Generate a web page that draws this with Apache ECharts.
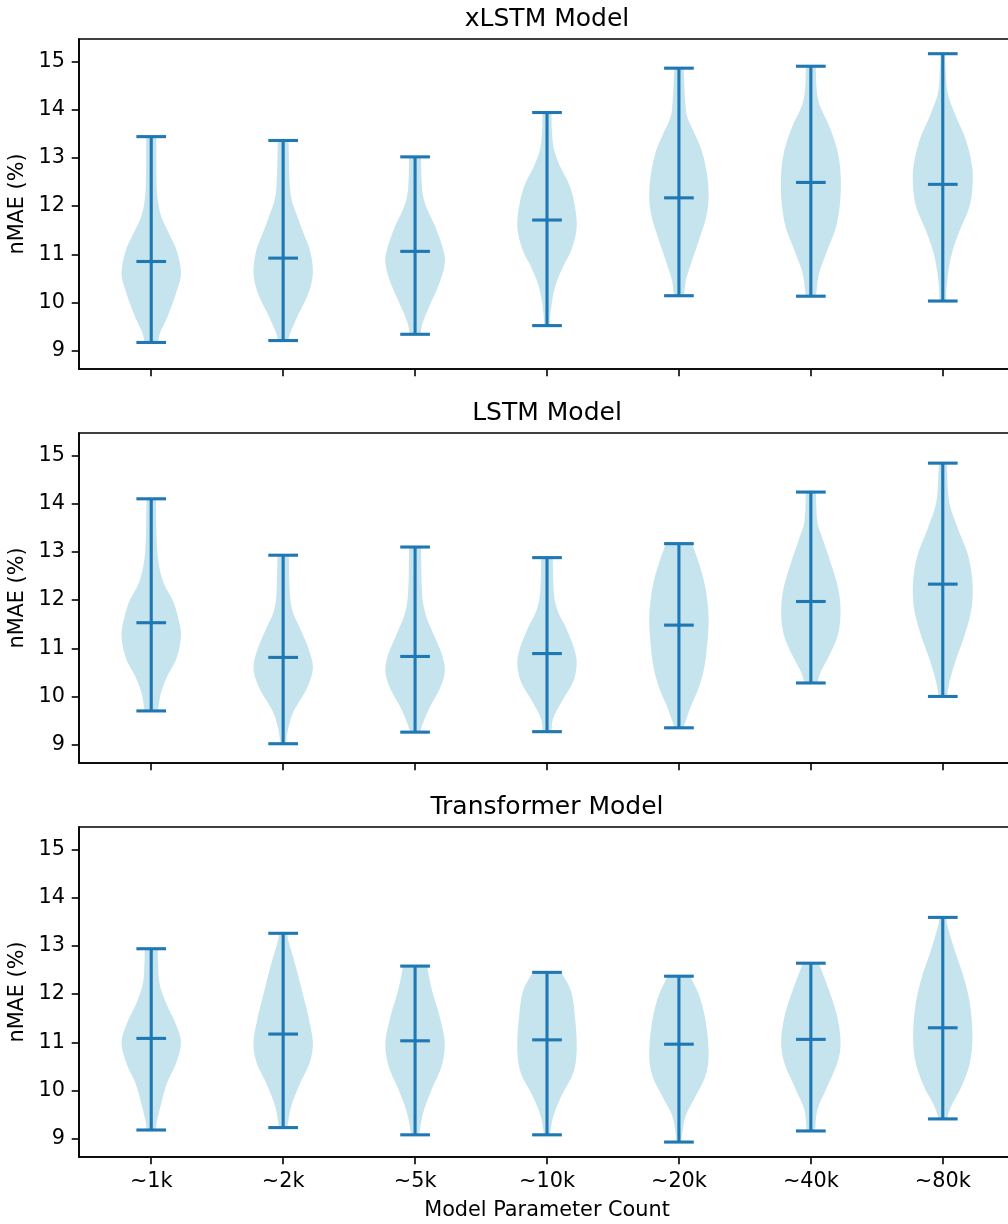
<!DOCTYPE html>
<html><head><meta charset="utf-8">
<script src="https://cdn.jsdelivr.net/npm/echarts@6/dist/echarts.min.js"></script>
<style>html,body{margin:0;padding:0;background:#fff}#c{width:1008px;height:1224px}</style>
</head><body><div id="c"></div>
<script>
// ---------------- data ----------------
const categories = ['~1k','~2k','~5k','~10k','~20k','~40k','~80k'];
const panelTitles = ['xLSTM Model','LSTM Model','Transformer Model'];
const yTicks = [9,10,11,12,13,14,15];

const xlstmMin = [9.17, 9.21, 9.34, 9.52, 10.14, 10.13, 10.03];
const xlstmMax = [13.44, 13.36, 13.02, 13.94, 14.86, 14.90, 15.16];
const xlstmMid = [10.85, 10.92, 11.06, 11.71, 12.17, 12.49, 12.45];

const lstmMin = [9.70, 9.02, 9.26, 9.27, 9.35, 10.28, 10.00];
const lstmMax = [14.10, 12.93, 13.10, 12.88, 13.17, 14.24, 14.84];
const lstmMid = [11.53, 10.81, 10.83, 10.89, 11.48, 11.97, 12.33];

const transMin = [9.18, 9.23, 9.08, 9.08, 8.93, 9.16, 9.41];
const transMax = [12.94, 13.26, 12.58, 12.45, 12.37, 12.64, 13.59];
const transMid = [11.08, 11.17, 11.03, 11.05, 10.96, 11.06, 11.30];

// violin outline: [value, relative half-width]
const xlstmShape = [
  [[13.44,0.17],[12.5,0.18],[12.12,0.22],[11.78,0.34],[11.44,0.59],[11.09,0.85],[10.6,1.0],[10.2,0.84],[9.71,0.55],[9.37,0.3],[9.17,0.22]],
  [[13.36,0.18],[12.47,0.22],[12.12,0.29],[11.78,0.48],[11.43,0.69],[11.09,0.9],[10.61,1.0],[10.19,0.85],[9.71,0.48],[9.37,0.24],[9.21,0.17]],
  [[13.02,0.2],[12.33,0.24],[11.99,0.37],[11.57,0.68],[11.09,0.95],[10.81,1.0],[10.40,0.82],[9.92,0.48],[9.57,0.25],[9.34,0.18]],
  [[13.94,0.15],[13.50,0.17],[13.16,0.24],[12.81,0.45],[12.47,0.73],[12.12,0.9],[11.57,1.0],[11.09,0.82],[10.74,0.54],[10.40,0.31],[10.06,0.18],[9.71,0.11],[9.52,0.1]],
  [[14.86,0.16],[14.19,0.21],[13.85,0.28],[13.50,0.53],[13.16,0.76],[12.68,0.94],[12.19,1.0],[11.78,0.92],[11.30,0.68],[10.88,0.45],[10.47,0.24],[10.14,0.17]],
  [[14.90,0.16],[14.19,0.25],[13.64,0.63],[13.16,0.89],[12.68,1.0],[12.12,0.99],[11.57,0.85],[11.09,0.56],[10.61,0.28],[10.13,0.17]],
  [[15.16,0.08],[14.88,0.09],[14.33,0.17],[13.85,0.45],[13.37,0.78],[12.81,0.99],[12.40,1.0],[11.99,0.9],[11.43,0.53],[10.95,0.28],[10.40,0.14],[10.03,0.11]]
];
const lstmShape = [
  [[14.10,0.16],[13.14,0.19],[12.66,0.28],[12.31,0.45],[11.97,0.74],[11.55,0.94],[11.24,1.0],[10.79,0.85],[10.38,0.51],[10.03,0.31],[9.70,0.23]],
  [[12.93,0.19],[12.10,0.23],[11.76,0.32],[11.41,0.57],[11.0,0.85],[10.59,1.0],[10.17,0.8],[9.69,0.35],[9.34,0.17],[9.02,0.09]],
  [[13.10,0.2],[12.10,0.24],[11.69,0.36],[11.28,0.63],[10.86,0.91],[10.52,1.0],[10.17,0.84],[9.76,0.48],[9.41,0.24],[9.26,0.17]],
  [[12.88,0.19],[12.10,0.24],[11.76,0.37],[11.41,0.65],[11.0,0.91],[10.69,1.0],[10.31,0.88],[9.90,0.5],[9.55,0.21],[9.27,0.14]],
  [[13.17,0.44],[12.79,0.66],[12.38,0.85],[11.97,0.96],[11.55,1.0],[11.07,0.95],[10.59,0.85],[10.17,0.66],[9.76,0.38],[9.35,0.15]],
  [[14.24,0.17],[13.62,0.22],[13.28,0.39],[12.79,0.66],[12.24,0.92],[11.76,1.0],[11.28,0.91],[10.86,0.63],[10.52,0.34],[10.28,0.21]],
  [[14.84,0.13],[14.03,0.22],[13.48,0.51],[12.93,0.85],[12.38,1.0],[11.83,0.97],[11.28,0.74],[10.72,0.42],[10.31,0.23],[10.0,0.14]]
];
const transShape = [
  [[12.94,0.22],[12.63,0.23],[12.22,0.28],[11.81,0.5],[11.39,0.82],[11.01,1.0],[10.57,0.84],[10.15,0.53],[9.67,0.31],[9.32,0.18],[9.18,0.16]],
  [[13.26,0.14],[13.12,0.17],[12.63,0.4],[12.08,0.63],[11.53,0.85],[10.98,1.0],[10.57,0.89],[10.15,0.57],[9.67,0.27],[9.23,0.14]],
  [[12.58,0.4],[12.08,0.57],[11.53,0.83],[10.98,1.0],[10.50,0.89],[10.01,0.55],[9.53,0.27],[9.08,0.13]],
  [[12.45,0.48],[12.08,0.8],[11.53,0.94],[10.84,1.0],[10.36,0.88],[9.88,0.48],[9.46,0.21],[9.08,0.1]],
  [[12.37,0.38],[11.94,0.7],[11.39,0.91],[10.70,1.0],[10.28,0.88],[9.88,0.56],[9.46,0.22],[8.93,0.07]],
  [[12.64,0.27],[12.08,0.61],[11.53,0.89],[10.98,1.0],[10.57,0.89],[10.01,0.5],[9.60,0.22],[9.16,0.14]],
  [[13.59,0.12],[13.46,0.14],[12.91,0.4],[12.36,0.7],[11.81,0.91],[11.12,1.0],[10.57,0.91],[10.08,0.63],[9.67,0.28],[9.41,0.14]]
];

// ---------------- chart ----------------
const FONT = 'DejaVu Sans';
const FS = 20.8;
const LINE = '#1f77b4';
const BODY = 'rgba(173,216,230,0.7)';
const gridTops = [39, 433, 827];
const GRID_H = 330;
const GRID_W = 936;
const HALF_W = 0.225;   // violin half width in axis units
const CAP_HALF = 0.1125; // cap half length in axis units

const panels = [
  {min: xlstmMin, max: xlstmMax, mid: xlstmMid, shape: xlstmShape},
  {min: lstmMin, max: lstmMax, mid: lstmMid, shape: lstmShape},
  {min: transMin, max: transMax, mid: transMid, shape: transShape}
];

function outline(prof, steps) {
  const n = prof.length, vs = prof.map(p => p[0]), ws = prof.map(p => p[1]);
  const m = [];
  for (let i = 0; i < n; i++) {
    if (i === 0) m.push((ws[1] - ws[0]) / (vs[1] - vs[0]));
    else if (i === n - 1) m.push((ws[n-1] - ws[n-2]) / (vs[n-1] - vs[n-2]));
    else m.push((ws[i+1] - ws[i-1]) / (vs[i+1] - vs[i-1]));
  }
  const out = [];
  for (let k = 0; k < n - 1; k++) {
    const h = vs[k+1] - vs[k];
    for (let s = 0; s < steps; s++) {
      const t = s / steps, t2 = t*t, t3 = t2*t;
      const w = (2*t3 - 3*t2 + 1)*ws[k] + (t3 - 2*t2 + t)*h*m[k] + (-2*t3 + 3*t2)*ws[k+1] + (t3 - t2)*h*m[k+1];
      out.push([vs[k] + t*h, Math.max(0.03, w)]);
    }
  }
  out.push([vs[n-1], ws[n-1]]);
  return out;
}

function makeRender(shapes) {
  return function (params, api) {
    const x = api.value(0), lo = api.value(1), hi = api.value(2), mid = api.value(3), j = api.value(4);
    const pts = outline(shapes[j], 12);
    const right = pts.map(p => api.coord([x + p[1]*HALF_W, p[0]]));
    const left = pts.map(p => api.coord([x - p[1]*HALF_W, p[0]])).reverse();
    const pTop = api.coord([x, hi]), pBot = api.coord([x, lo]), pMid = api.coord([x, mid]);
    const capL = api.coord([x - CAP_HALF, hi])[0], capR = api.coord([x + CAP_HALF, hi])[0];
    const ls = {stroke: LINE, lineWidth: 3.1, lineCap: 'butt'};
    return {type: 'group', children: [
      {type: 'polygon', shape: {points: right.concat(left)}, style: {fill: BODY}},
      {type: 'line', shape: {x1: pTop[0], y1: pTop[1], x2: pBot[0], y2: pBot[1]}, style: ls},
      {type: 'line', shape: {x1: capL, y1: pTop[1], x2: capR, y2: pTop[1]}, style: ls},
      {type: 'line', shape: {x1: capL, y1: pBot[1], x2: capR, y2: pBot[1]}, style: ls},
      {type: 'line', shape: {x1: capL, y1: pMid[1], x2: capR, y2: pMid[1]}, style: ls}
    ]};
  };
}

const xTickVals = categories.map((c, i) => i + 1);

const option = {
  animation: false,
  backgroundColor: '#fff',
  grid: gridTops.map(t => ({left: 79, width: GRID_W, top: t, height: GRID_H, show: true,
    outerBoundsMode: 'none', containLabel: false,
    borderColor: '#000', borderWidth: 1.6, backgroundColor: 'transparent'})),
  xAxis: gridTops.map((t, i) => ({
    type: 'value', gridIndex: i, min: 0.4525, max: 7.5475,
    splitLine: {show: false},
    axisLine: {show: true, lineStyle: {color: '#000', width: 1.6}},
    axisTick: {show: true, customValues: xTickVals, length: 7.3, lineStyle: {color: '#000', width: 1.6}},
    axisLabel: {show: i === 2, customValues: xTickVals, margin: 14,
      formatter: v => categories[Math.round(v) - 1] || '',
      fontFamily: FONT, fontSize: FS, color: '#000'},
    name: i === 2 ? 'Model Parameter Count' : '',
    nameLocation: 'middle', nameGap: 43,
    nameTextStyle: {fontFamily: FONT, fontSize: FS, color: '#000'}
  })),
  yAxis: gridTops.map((t, i) => ({
    type: 'value', gridIndex: i, min: 8.62, max: 15.465,
    splitLine: {show: false},
    axisLine: {show: true, lineStyle: {color: '#000', width: 1.6}},
    axisTick: {show: true, customValues: yTicks, length: 7.3, lineStyle: {color: '#000', width: 1.6}},
    axisLabel: {show: true, customValues: yTicks, margin: 14,
      fontFamily: FONT, fontSize: FS, color: '#000'},
    name: 'nMAE (%)', nameLocation: 'middle', nameGap: 45,
    nameTextStyle: {fontFamily: FONT, fontSize: FS, color: '#000'}
  })),
  graphic: panelTitles.map((txt, i) => ({
    type: 'text', x: 547, y: gridTops[i] - 7,
    style: {text: txt, font: '25px "DejaVu Sans"', fill: '#000', textAlign: 'center', textVerticalAlign: 'bottom'}
  })),
  series: panels.map((p, i) => ({
    type: 'custom', xAxisIndex: i, yAxisIndex: i, clip: false,
    renderItem: makeRender(p.shape),
    data: categories.map((c, j) => [j + 1, p.min[j], p.max[j], p.mid[j], j])
  }))
};

const chart = echarts.init(document.getElementById('c'), null, {renderer: 'canvas'});
chart.setOption(option);
</script>
</body></html>
